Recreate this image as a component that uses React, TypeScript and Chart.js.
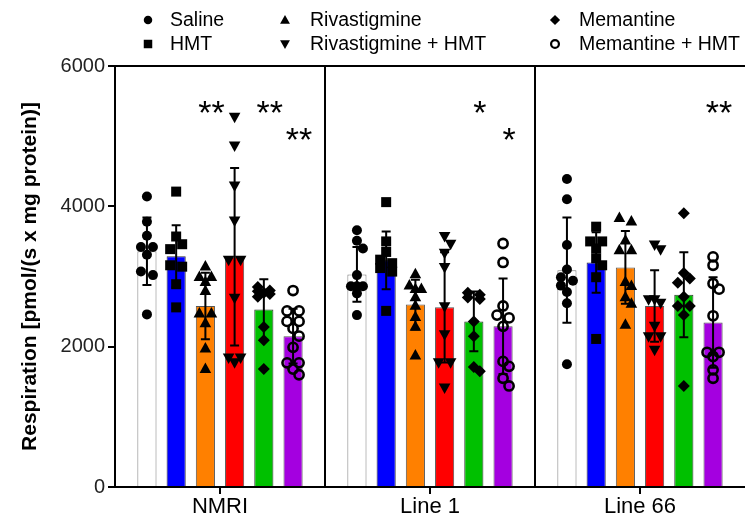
import React, { useEffect, useRef } from 'react';
import { Chart, registerables } from 'chart.js';

Chart.register(...registerables);

const FONT = '"Liberation Sans", Arial, Helvetica, sans-serif';

// ---------- data ----------
const categories = ['NMRI', 'Line 1', 'Line 66'];
const seriesNames = ['Saline', 'HMT', 'Rivastigmine', 'Rivastigmine + HMT', 'Memantine', 'Memantine + HMT'];
const yTicks = [0, 2000, 4000, 6000];

const meanSaline = [3360, 3030, 3090];
const meanHMT = [3290, 3230, 3200];
const meanRiv = [2580, 2600, 3130];
const meanRivHMT = [3280, 2560, 2580];
const meanMem = [2530, 2360, 2740];
const meanMemHMT = [2150, 2290, 2345];

const sdSaline = [480, 390, 750];
const sdHMT = [440, 410, 430];
const sdRiv = [475, 355, 520];
const sdRivHMT = [1265, 785, 510];
const sdMem = [430, 425, 605];
const sdMemHMT = [390, 680, 645];

const ptsSaline = [
  [4140, 3780, 3580, 3420, 3420, 3310, 3070, 3020, 2460],
  [3660, 3510, 3400, 3020, 2860, 2860, 2860, 2760, 2450],
  [4390, 4100, 3450, 3100, 2990, 2940, 2870, 2780, 2620, 1750],
];
const ptsHMT = [
  [4210, 3570, 3460, 3390, 3160, 3140, 2890, 2560],
  [4060, 3500, 3350, 3240, 3190, 3120, 3070, 2510],
  [3710, 3500, 3500, 3400, 3260, 3160, 2990, 2110],
];
const ptsRiv = [
  [3150, 3000, 3000, 2930, 2800, 2480, 2480, 2340, 1980, 1690],
  [3040, 2880, 2830, 2830, 2710, 2590, 2430, 2290, 1880],
  [3840, 3790, 3520, 3380, 3380, 2930, 2870, 2710, 2620, 2320],
];
const ptsRivHMT = [
  [5270, 4860, 4290, 3790, 3230, 3230, 2690, 1840, 1840, 1770],
  [3570, 3460, 3330, 3130, 2570, 2170, 1770, 1770, 1410],
  [3450, 3380, 2670, 2670, 2620, 2290, 2140, 2140, 1950],
];
const ptsMem = [
  [2850, 2800, 2790, 2770, 2750, 2710, 2280, 2090, 1680],
  [2770, 2740, 2700, 2680, 2360, 2150, 1710, 1650],
  [3900, 3050, 2970, 2910, 2710, 2580, 2580, 2450, 1440],
];
const ptsMemHMT = [
  [2800, 2510, 2510, 2360, 2360, 2260, 2150, 1990, 1770, 1770, 1680, 1600],
  [3470, 3200, 2580, 2450, 2410, 2290, 1790, 1720, 1550, 1440],
  [3280, 3160, 2900, 2820, 2440, 1920, 1920, 1860, 1670, 1550],
];

const sigCategory = [0, 0, 0, 1, 1, 2];
const sigSeries = [2, 4, 5, 4, 5, 5];
const sigText = ['**', '**', '**', '*', '*', '**'];
const sigValue = [5470, 5470, 5090, 5470, 5090, 5470];

// ---------- styles ----------
const barColors = ['#FFFFFF', '#0000FF', '#FF8000', '#FF0000', '#00C000', '#A400E0'];
const barBorders = ['#7a7a7a', '#333333', '#555555', '#555555', '#333333', '#555555'];
const markerKinds = ['circle', 'square', 'triUp', 'triDown', 'diamond', 'openCircle'];

const means = [meanSaline, meanHMT, meanRiv, meanRivHMT, meanMem, meanMemHMT];
const sds = [sdSaline, sdHMT, sdRiv, sdRivHMT, sdMem, sdMemHMT];
const points = [ptsSaline, ptsHMT, ptsRiv, ptsRivHMT, ptsMem, ptsMemHMT];

function drawMarker(ctx: CanvasRenderingContext2D, kind: string, x: number, y: number, s: number) {
  ctx.beginPath();
  if (kind === 'circle') {
    ctx.arc(x, y, 5 * s, 0, Math.PI * 2);
    ctx.fill();
  } else if (kind === 'square') {
    ctx.rect(x - 5 * s, y - 5 * s, 10 * s, 10 * s);
    ctx.fill();
  } else if (kind === 'triUp') {
    ctx.moveTo(x, y - 6 * s);
    ctx.lineTo(x + 5.8 * s, y + 4.5 * s);
    ctx.lineTo(x - 5.8 * s, y + 4.5 * s);
    ctx.closePath();
    ctx.fill();
  } else if (kind === 'triDown') {
    ctx.moveTo(x, y + 6 * s);
    ctx.lineTo(x + 5.8 * s, y - 4.5 * s);
    ctx.lineTo(x - 5.8 * s, y - 4.5 * s);
    ctx.closePath();
    ctx.fill();
  } else if (kind === 'diamond') {
    ctx.moveTo(x, y - 6 * s);
    ctx.lineTo(x + 6 * s, y);
    ctx.lineTo(x, y + 6 * s);
    ctx.lineTo(x - 6 * s, y);
    ctx.closePath();
    ctx.fill();
  } else if (kind === 'openCircle') {
    ctx.lineWidth = 2.6 * s;
    ctx.arc(x, y, 4.6 * s, 0, Math.PI * 2);
    ctx.stroke();
  }
}

// compact scatter layout: points that collide are pushed at most 6px to the sides
function swarmOffsets(py: number[]): number[] {
  const order = py.map((v, i) => i).sort((a, b) => py[a] - py[b]);
  const off = new Array(py.length).fill(0);
  const placed: { x: number; y: number }[] = [];
  let k = 0;
  while (k < order.length) {
    const row = [order[k]];
    let m = k + 1;
    while (m < order.length && py[order[m]] - py[order[k]] < 4) {
      row.push(order[m]);
      m++;
    }
    if (row.length > 1) {
      row.forEach((idx, r) => {
        off[idx] = -6 + (12 * r) / (row.length - 1);
        placed.push({ x: off[idx], y: py[idx] });
      });
    } else {
      const idx = row[0];
      const cands = [0, 6, -6];
      let best = 0;
      let bestD = -1;
      for (const c of cands) {
        let d = Infinity;
        placed.forEach((p) => {
          d = Math.min(d, Math.hypot(p.x - c, p.y - py[idx]));
        });
        if (d >= 8) {
          best = c;
          bestD = d;
          break;
        }
        if (d > bestD) {
          bestD = d;
          best = c;
        }
      }
      off[idx] = best;
      placed.push({ x: best, y: py[idx] });
    }
    k = m;
  }
  return off;
}

const overlayPlugin = {
  id: 'overlay',
  afterDatasetsDraw(chart: any) {
    const ctx: CanvasRenderingContext2D = chart.ctx;
    const ca = chart.chartArea;
    const xs = chart.scales.x;
    const ys = chart.scales.y;
    ctx.save();
    // frame
    ctx.strokeStyle = '#000';
    ctx.lineWidth = 2;
    ctx.beginPath();
    ctx.moveTo(ca.left - 1, ca.top);
    ctx.lineTo(ca.right, ca.top);
    for (let i = 1; i < categories.length; i++) {
      const bx = (xs.getPixelForValue(i - 1) + xs.getPixelForValue(i)) / 2;
      ctx.moveTo(bx, ca.top);
      ctx.lineTo(bx, ca.bottom);
    }
    for (let i = 0; i < categories.length; i++) {
      const cx = xs.getPixelForValue(i);
      ctx.moveTo(cx, ca.bottom);
      ctx.lineTo(cx, ca.bottom + 7);
    }
    ctx.stroke();

    // error bars
    for (let s = 0; s < means.length; s++) {
      const meta = chart.getDatasetMeta(s);
      for (let j = 0; j < categories.length; j++) {
        const el = meta.data[j];
        const bx = el.x;
        const top = ys.getPixelForValue(means[s][j] + sds[s][j]);
        const bot = ys.getPixelForValue(means[s][j] - sds[s][j]);
        ctx.beginPath();
        ctx.lineWidth = 2;
        ctx.strokeStyle = '#000';
        ctx.moveTo(bx, top);
        ctx.lineTo(bx, bot);
        ctx.moveTo(bx - 4.5, top);
        ctx.lineTo(bx + 4.5, top);
        ctx.moveTo(bx - 4.5, bot);
        ctx.lineTo(bx + 4.5, bot);
        ctx.stroke();
      }
    }

    // points
    ctx.fillStyle = '#000';
    ctx.strokeStyle = '#000';
    for (let s = 0; s < points.length; s++) {
      const meta = chart.getDatasetMeta(s);
      for (let j = 0; j < categories.length; j++) {
        const bx = meta.data[j].x;
        const vals = points[s][j];
        const py = vals.map((v) => ys.getPixelForValue(v));
        const off = swarmOffsets(py);
        py.forEach((y, k) => drawMarker(ctx, markerKinds[s], bx + off[k], y, 1));
      }
    }

    // significance
    ctx.fillStyle = '#000';
    ctx.font = `34px ${FONT}`;
    ctx.textAlign = 'center';
    ctx.textBaseline = 'alphabetic';
    for (let k = 0; k < sigText.length; k++) {
      const bx = chart.getDatasetMeta(sigSeries[k]).data[sigCategory[k]].x + 6;
      const y = ys.getPixelForValue(sigValue[k]);
      ctx.fillText(sigText[k], bx, y + 21);
    }

    // legend
    const colMarkerX = [148, 285, 555];
    const colTextX = [170, 310, 579];
    const rowY = [20, 44];
    ctx.font = `19.5px ${FONT}`;
    ctx.textAlign = 'left';
    ctx.textBaseline = 'middle';
    for (let s = 0; s < seriesNames.length; s++) {
      const col = Math.floor(s / 2);
      const row = s % 2;
      ctx.fillStyle = '#000';
      ctx.strokeStyle = '#000';
      drawMarker(ctx, markerKinds[s], colMarkerX[col], rowY[row], 0.85);
      ctx.fillText(seriesNames[s], colTextX[col], rowY[row] + 1);
    }
    ctx.restore();
  },
};

export default function App() {
  const ref = useRef<HTMLCanvasElement | null>(null);
  useEffect(() => {
    document.body.style.margin = '0';
    const canvas = ref.current;
    if (!canvas) return;
    const chart = new Chart(canvas, {
      type: 'bar',
      data: {
        labels: categories,
        datasets: seriesNames.map((name, s) => ({
          label: name,
          data: means[s],
          backgroundColor: barColors[s],
          borderColor: barBorders[s],
          borderWidth: 1,
          categoryPercentage: 0.835,
          barPercentage: 0.655,
        })),
      },
      options: {
        responsive: false,
        animation: false,
        devicePixelRatio: 1,
        layout: { padding: { top: 66, right: 0, left: 0, bottom: 0 } },
        plugins: {
          legend: { display: false },
          tooltip: { enabled: false },
        },
        scales: {
          x: {
            type: 'category',
            offset: true,
            grid: { display: false, drawTicks: false },
            border: { display: true, color: '#000', width: 2 },
            ticks: { color: '#000', font: { size: 22, family: FONT }, padding: 7 },
            afterFit: (s: any) => {
              s.height = 34;
            },
          },
          y: {
            min: 0,
            max: 6000,
            afterBuildTicks: (s: any) => {
              s.ticks = yTicks.map((v) => ({ value: v }));
            },
            grid: {
              display: true,
              drawOnChartArea: false,
              drawTicks: true,
              tickLength: 7,
              color: '#000',
              lineWidth: 2,
            },
            border: { display: true, color: '#000', width: 2 },
            ticks: {
              color: '#222',
              font: { size: 20, family: FONT },
              padding: 3,
              callback: (v: any) => String(v),
            },
            title: {
              display: true,
              text: 'Respiration [pmol/(s x mg protein)]',
              color: '#000',
              font: { size: 21, weight: 'bold', family: FONT },
              padding: { top: 18, bottom: 0 },
            },
            afterFit: (s: any) => {
              s.width = 115;
            },
          },
        },
      },
      plugins: [overlayPlugin],
    });
    return () => chart.destroy();
  }, []);
  return (
    <div style={{ width: 745, height: 521 }}>
      <canvas ref={ref} width={745} height={521} />
    </div>
  );
}
